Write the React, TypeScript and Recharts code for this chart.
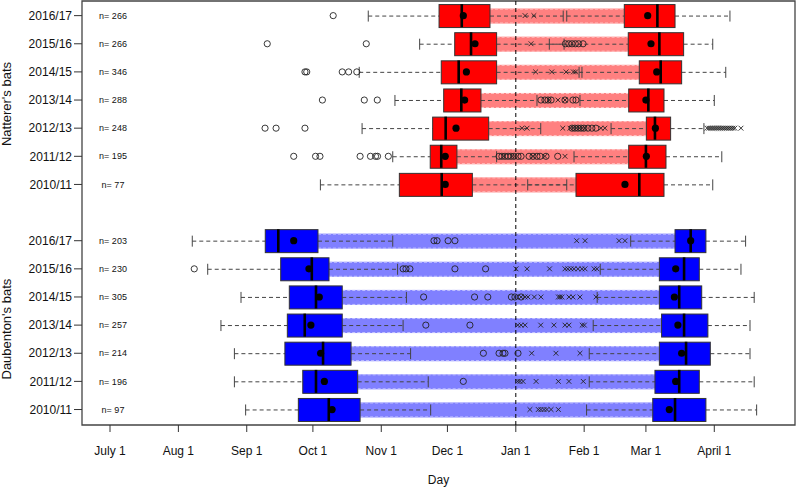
import React from "react";
import {
  ComposedChart,
  Bar,
  Scatter,
  XAxis,
  YAxis,
  ReferenceLine,
  ReferenceArea,
} from "recharts";

// all values are days counted from July 1
const years = ["2016/17", "2015/16", "2014/15", "2013/14", "2012/13", "2011/12", "2010/11"];
const nattererN = [266, 266, 346, 288, 248, 195, 77];
const daubentonN = [203, 230, 305, 257, 214, 196, 97];

// [lower whisker, Q1, median, Q3, upper whisker]
const nattererArrival = [
  [117.1, 149.2, 159.5, 172.3, 205.5],
  [140.4, 156.3, 163.7, 175.3, 205.9],
  [113.0, 150.2, 158.1, 175.3, 214.0],
  [129.2, 151.3, 159.3, 168.2, 193.6],
  [114.3, 146.3, 152.2, 171.7, 195.3],
  [128.2, 145.2, 150.2, 157.3, 175.3],
  [95.4, 131.2, 150.4, 164.3, 207.1],
];
const nattererArrivalMean = [160.2, 165.5, 161.6, 160.8, 156.9, 152.0, 152.0];
const nattererDeparture = [
  [207.1, 233.2, 248.2, 256.2, 281.1],
  [199.2, 235.0, 249.1, 260.1, 273.3],
  [212.7, 240.0, 249.7, 259.2, 279.2],
  [213.1, 235.2, 244.1, 251.2, 274.0],
  [227.2, 243.2, 247.1, 254.2, 269.3],
  [210.4, 235.2, 243.0, 252.1, 277.4],
  [189.4, 211.3, 240.0, 251.2, 273.3],
];
const nattererDepartureMean = [243.8, 245.3, 247.9, 243.0, 247.3, 243.2, 233.5];
const nattererArrivalOutliers = [
  [101.2],
  [71.3, 116.2, 206.5, 208.0, 209.5, 211.0, 212.5, 214.5],
  [88.4, 89.2, 105.3, 108.2, 111.9],
  [96.3, 115.3, 121.2, 195.4, 197.2, 198.6, 200.0, 206.3, 209.9, 211.3],
  [70.3, 75.3, 88.4, 209.5, 210.8, 212.2, 213.6, 214.9, 216.7, 218.5, 220.3],
  [83.3, 93.2, 95.2, 113.4, 118.1, 120.4, 121.3, 126.2, 176.4, 177.7, 179.1, 180.5, 181.8,
    183.2, 185.0, 186.4, 190.0, 191.8, 193.6, 195.0, 197.7, 203.0],
  [],
];
const nattererDepartureOutliers = [
  [188.2, 192.2],
  [190.9],
  [193.0, 200.3, 206.8, 210.1, 211.1],
  [199.0, 203.1, 206.3],
  [186.8, 189.1, 205.3, 208.6, 209.9, 211.3, 212.7, 214.0, 215.4, 222.6, 224.4, 270.7, 271.6,
    272.5, 273.4, 274.3, 275.2, 276.1, 277.0, 277.9, 278.8, 279.7, 280.6, 281.5, 282.4, 283.3, 286.1],
  [178.6, 182.3, 191.8, 197.2, 206.3],
  [],
];

const daubentonArrival = [
  [37.3, 70.4, 76.3, 94.3, 128.2],
  [44.3, 77.4, 91.5, 99.3, 130.4],
  [59.4, 81.3, 93.4, 105.3, 134.4],
  [50.3, 80.4, 88.3, 105.3, 132.9],
  [56.4, 79.3, 96.6, 109.3, 136.3],
  [56.4, 87.4, 93.4, 112.3, 144.3],
  [61.5, 85.4, 99.2, 113.4, 145.4],
];
const daubentonArrivalMean = [83.3, 90.2, 94.9, 91.1, 95.5, 97.2, 100.7];
const daubentonDeparture = [
  [236.1, 256.2, 263.3, 270.2, 288.2],
  [222.3, 249.1, 260.3, 267.2, 286.1],
  [220.9, 249.1, 258.1, 268.3, 292.1],
  [219.1, 250.1, 260.3, 271.1, 290.2],
  [217.3, 249.1, 261.2, 272.2, 290.2],
  [217.3, 247.1, 258.1, 267.2, 292.1],
  [216.1, 246.1, 256.2, 270.2, 293.2],
];
const daubentonDepartureMean = [263.3, 256.5, 255.9, 257.5, 259.2, 256.5, 253.6];
const daubentonArrivalOutliers = [
  [146.9, 148.3, 153.3, 156.4],
  [38.2, 132.9, 134.2, 136.0, 156.4, 170.3],
  [142.2, 165.3, 171.3, 182.0, 183.6, 186.4],
  [143.2, 163.2],
  [169.3, 176.4, 178.2, 179.1, 185.0],
  [160.2],
  [],
];
const daubentonDepartureOutliers = [
  [211.6, 215.4, 230.8, 233.5],
  [184.1, 189.1, 199.3, 206.3, 207.6, 209.0, 210.4, 212.2, 214.0, 215.4, 219.5, 220.8],
  [186.4, 188.2, 189.5, 192.4, 195.4, 203.3, 204.0, 204.9, 208.1, 209.9, 213.1, 220.4],
  [184.9, 186.4, 188.2, 195.3, 201.3, 206.3, 208.1, 214.1, 215.1],
  [191.2, 202.2, 213.1],
  [184.9, 185.9, 187.3, 193.2, 203.3, 208.1, 214.6],
  [190.4, 194.2, 195.4, 196.8, 198.1, 200.0, 203.3],
];

const dayTicks = [0, 31, 62, 92, 123, 153, 184, 215, 243, 274];
const dayLabels = ["July 1", "Aug 1", "Sep 1", "Oct 1", "Nov 1", "Dec 1", "Jan 1", "Feb 1", "Mar 1", "April 1"];

const X_MIN = -12.7;
const X_MAX = 310.6;
const Y_MIN = -0.52;
const Y_MAX = 14.55;
const PLOT_LEFT = 82;
const BOX_H = 23;
const BAND_H = 15;
const FONT = "'Liberation Sans', Arial, Helvetica, sans-serif";

const palette = {
  nat: { box: "#ff0000", band: "#ff8080", edge: "#ffc4c4" },
  dau: { box: "#0000ff", band: "#8080ff", edge: "#c4c4ff" },
};

const species = [
  {
    id: "nat", label: "Natterer's bats", start: 0, n: nattererN,
    arr: nattererArrival, arrMean: nattererArrivalMean,
    dep: nattererDeparture, depMean: nattererDepartureMean,
    early: nattererArrivalOutliers, late: nattererDepartureOutliers,
  },
  {
    id: "dau", label: "Daubenton's bats", start: 8, n: daubentonN,
    arr: daubentonArrival, arrMean: daubentonArrivalMean,
    dep: daubentonDeparture, depMean: daubentonDepartureMean,
    early: daubentonArrivalOutliers, late: daubentonDepartureOutliers,
  },
];

const rows = species.flatMap((s) =>
  years.map((year, i) => ({
    pos: s.start + i,
    sp: s.id,
    year,
    n: s.n[i],
    aLow: s.arr[i][0], aQ1: s.arr[i][1], aMed: s.arr[i][2], aQ3: s.arr[i][3], aHigh: s.arr[i][4],
    aMean: s.arrMean[i],
    dLow: s.dep[i][0], dQ1: s.dep[i][1], dMed: s.dep[i][2], dQ3: s.dep[i][3], dHigh: s.dep[i][4],
    dMean: s.depMean[i],
  }))
);

const earlyPoints = species.flatMap((s) =>
  s.early.flatMap((vals, i) => vals.map((v) => ({ pos: s.start + i, v })))
);
const latePoints = species.flatMap((s) =>
  s.late.flatMap((vals, i) => vals.map((v) => ({ pos: s.start + i, v })))
);

const rowTicks = rows.map((r) => r.pos);
const rowByPos = new Map(rows.map((r) => [r.pos, r]));
const groupLabelPos = new Map(species.map((s) => [s.start + 3, s.label]));

const BandShape = (p: any) => {
  const { x, y, width, height, payload } = p;
  if (width == null || !payload) return null;
  const c = palette[payload.sp as "nat" | "dau"];
  const top = y + (height - BAND_H) / 2;
  return (
    <g>
      <rect x={x} y={top} width={width} height={BAND_H} fill={c.band} />
      <line x1={x} x2={x + width} y1={top + 0.5} y2={top + 0.5} stroke={c.edge} strokeDasharray="3 2" />
      <line x1={x} x2={x + width} y1={top + BAND_H - 0.5} y2={top + BAND_H - 0.5} stroke={c.edge} strokeDasharray="3 2" />
    </g>
  );
};

const BoxShape = (p: any) => {
  const { x, y, width, height, payload } = p;
  if (width == null || !payload) return null;
  const c = palette[payload.sp as "nat" | "dau"];
  return <rect x={x} y={y} width={width} height={height} fill={c.box} stroke="#333" strokeWidth={1} />;
};

const whisker = (side: "left" | "right") => (p: any) => {
  const { x, y, width, height } = p;
  if (width == null) return null;
  const l = Math.min(x, x + width);
  const r = Math.max(x, x + width);
  const cy = y + height / 2;
  const cap = side === "left" ? l : r;
  return (
    <g>
      <line x1={l} x2={r} y1={cy} y2={cy} stroke="#444" strokeDasharray="4 3" />
      <line x1={cap} x2={cap} y1={cy - 5.5} y2={cy + 5.5} stroke="#444" />
    </g>
  );
};

const Circle = (p: any) =>
  p.cx == null ? null : <circle cx={p.cx} cy={p.cy} r={3.1} fill="none" stroke="#222" strokeWidth={0.9} />;

const Cross = (p: any) => {
  if (p.cx == null) return null;
  const d = 2.4;
  return (
    <g stroke="#222" strokeWidth={0.9}>
      <line x1={p.cx - d} x2={p.cx + d} y1={p.cy - d} y2={p.cy + d} />
      <line x1={p.cx - d} x2={p.cx + d} y1={p.cy + d} y2={p.cy - d} />
    </g>
  );
};

const Median = (p: any) =>
  p.cx == null ? null : (
    <line x1={p.cx} x2={p.cx} y1={p.cy - BOX_H / 2} y2={p.cy + BOX_H / 2} stroke="#000" strokeWidth={2.6} />
  );

const Mean = (p: any) => (p.cx == null ? null : <circle cx={p.cx} cy={p.cy} r={3.6} fill="#000" />);

const RowTick = (p: any) => {
  const { x, y, payload } = p;
  const row = rowByPos.get(payload.value);
  if (!row) return null;
  const group = groupLabelPos.get(payload.value);
  return (
    <g>
      <text x={x} y={y} dy="0.35em" textAnchor="end" fontSize={12} fill="#111">
        {row.year}
      </text>
      <text x={PLOT_LEFT + 31} y={y} dy="0.35em" textAnchor="middle" fontSize={9} fill="#111">
        {`n= ${row.n}`}
      </text>
      {group && (
        <text
          x={11.5}
          y={y + 4}
          textAnchor="middle"
          fontSize={13}
          fill="#111"
          transform={`rotate(-90 11.5 ${y + 4})`}
        >
          {group}
        </text>
      )}
    </g>
  );
};

export default function App() {
  return (
    <div
      style={{
        position: "absolute",
        left: 0,
        top: 0,
        width: 797,
        height: 488,
        background: "#fff",
        fontFamily: FONT,
      }}
    >
      <ComposedChart
        width={797}
        height={488}
        data={rows}
        layout="vertical"
        margin={{ top: 1, right: 2, bottom: 0, left: 0 }}
        barSize={BOX_H}
        barGap={-BOX_H}
      >
        <XAxis
          type="number"
          domain={[X_MIN, X_MAX]}
          allowDataOverflow
          ticks={dayTicks}
          interval={0}
          tickFormatter={(v: number) => dayLabels[dayTicks.indexOf(v)] ?? ""}
          tick={{ fontSize: 12, fill: "#111" }}
          tickSize={7}
          tickMargin={14}
          tickLine={{ stroke: "#333" }}
          axisLine={false}
          height={63}
          label={{ value: "Day", position: "insideBottom", offset: 4, fontSize: 12, fill: "#111" }}
        />
        <YAxis
          type="number"
          dataKey="pos"
          domain={[Y_MIN, Y_MAX]}
          allowDataOverflow
          ticks={rowTicks}
          interval={0}
          width={PLOT_LEFT}
          tick={RowTick}
          tickSize={8}
          tickMargin={2}
          tickLine={{ stroke: "#333" }}
          axisLine={false}
        />
        <ReferenceArea
          x1={X_MIN}
          x2={X_MAX}
          y1={Y_MIN}
          y2={Y_MAX}
          fill="none"
          stroke="#444"
          strokeWidth={1.3}
          ifOverflow="visible"
        />
        <Bar dataKey={(r: any) => [r.aQ3, r.dQ1]} shape={BandShape} isAnimationActive={false} />
        <Bar dataKey={(r: any) => [r.aLow, r.aQ1]} shape={whisker("left")} isAnimationActive={false} />
        <Bar dataKey={(r: any) => [r.aQ3, r.aHigh]} shape={whisker("right")} isAnimationActive={false} />
        <Bar dataKey={(r: any) => [r.dLow, r.dQ1]} shape={whisker("left")} isAnimationActive={false} />
        <Bar dataKey={(r: any) => [r.dQ3, r.dHigh]} shape={whisker("right")} isAnimationActive={false} />
        <Bar dataKey={(r: any) => [r.aQ1, r.aQ3]} shape={BoxShape} isAnimationActive={false} />
        <Bar dataKey={(r: any) => [r.dQ1, r.dQ3]} shape={BoxShape} isAnimationActive={false} />
        <ReferenceLine x={184} stroke="#000" strokeDasharray="4 3" />
        <Scatter data={earlyPoints} dataKey="v" shape={Circle} isAnimationActive={false} />
        <Scatter data={latePoints} dataKey="v" shape={Cross} isAnimationActive={false} />
        <Scatter data={rows} dataKey="aMed" shape={Median} isAnimationActive={false} />
        <Scatter data={rows} dataKey="dMed" shape={Median} isAnimationActive={false} />
        <Scatter data={rows} dataKey="aMean" shape={Mean} isAnimationActive={false} />
        <Scatter data={rows} dataKey="dMean" shape={Mean} isAnimationActive={false} />
      </ComposedChart>
    </div>
  );
}
